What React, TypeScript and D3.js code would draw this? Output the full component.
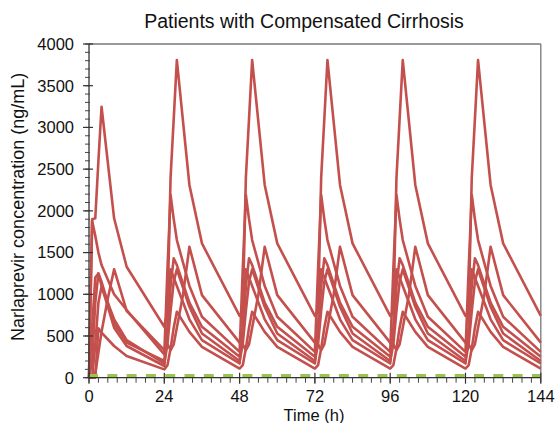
import React from "react";
import * as d3 from "d3";

const TITLE = "Patients with Compensated Cirrhosis";
const X_LABEL = "Time (h)";
const Y_LABEL = "Narlaprevir concentration (ng/mL)";

const X_TICKS = [0, 24, 48, 72, 96, 120, 144];
const Y_TICKS = [0, 500, 1000, 1500, 2000, 2500, 3000, 3500, 4000];
const DOSE_DAYS = [0, 1, 2, 3, 4, 5];
const LLOQ = 25;

// hours after each dose
const REL_TIMES = [0, 1, 2, 3, 4, 6, 8, 12, 24];

// first-dose profiles (values at REL_TIMES, null = not sampled)
const subjA_day1 = [0, 1900, 1910, 2600, 3248, null, 1911, 1330, 611];
const subjB_day1 = [0, 1880, 1700, 1500, 1350, null, 1000, 811, 280];
const subjC_day1 = [0, 0, 50, 300, 550, 950, 1300, 800, 330];
const subjD_day1 = [0, 200, 900, 1250, 1150, null, 650, 420, 200];
const subjE_day1 = [0, 0, 400, 900, 1091, null, 700, 450, 170];
const subjF_day1 = [0, 0, 0, 592, 540, null, 380, 260, 100];
const subjG_day1 = [0, 600, 1200, 1250, 1100, null, 600, 380, 140];

// steady-state profiles after repeat doses (index 0 = previous trough)
const subjA_ss = [null, 800, 2400, 3100, 3808, null, 2310, 1610, 740];
const subjB_ss = [null, 1300, 2190, 1900, 1650, null, 1100, 730, 310];
const subjC_ss = [null, 400, 330, 400, 600, 1000, 1570, 990, 420];
const subjD_ss = [null, 500, 1100, 1431, 1350, null, 900, 610, 250];
const subjE_ss = [null, 400, 800, 1150, 1300, null, 850, 530, 200];
const subjF_ss = [null, 150, 350, 600, 791, null, 550, 370, 110];
const subjG_ss = [null, 600, 1300, 1200, 1100, null, 700, 450, 170];

const SUBJECTS = [
  [subjA_day1, subjA_ss],
  [subjB_day1, subjB_ss],
  [subjC_day1, subjC_ss],
  [subjD_day1, subjD_ss],
  [subjE_day1, subjE_ss],
  [subjF_day1, subjF_ss],
  [subjG_day1, subjG_ss],
];

const W = 556;
const H = 423;
const X0 = 89;
const X1 = 540.8;
const Y0 = 377.7;
const Y1 = 44;
const FONT = "'Liberation Sans', Arial, Helvetica, sans-serif";

function buildSeries(day1: (number | null)[], ss: (number | null)[]) {
  const pts: [number, number][] = [];
  DOSE_DAYS.forEach((d) => {
    const prof = d === 0 ? day1 : ss;
    REL_TIMES.forEach((rt, i) => {
      const v = prof[i];
      if (v === null || v === undefined) return;
      pts.push([d * 24 + rt, v]);
    });
  });
  return pts;
}

export default function App() {
  const x = d3.scaleLinear().domain([0, 144]).range([X0, X1]);
  const y = d3.scaleLinear().domain([0, 4000]).range([Y0, Y1]);
  const line = d3
    .line<[number, number]>()
    .x((d) => x(d[0]))
    .y((d) => y(d[1]));

  const xMinor = d3.range(0, 145, 3);
  const yMinor = d3.range(0, 4001, 100);

  return (
    <svg
      width={W}
      height={H}
      style={{ position: "absolute", left: 0, top: 0, background: "#fff" }}
    >
      <rect x={0} y={0} width={W} height={H} fill="#fff" />
      <text
        x={304}
        y={28}
        textAnchor="middle"
        fontFamily={FONT}
        fontSize={19.5}
        fill="#111"
      >
        {TITLE}
      </text>

      {/* frame */}
      <line x1={X0} y1={Y1} x2={X1} y2={Y1} stroke="#777" strokeWidth={1.3} />
      <line x1={X1} y1={Y1} x2={X1} y2={Y0} stroke="#777" strokeWidth={1.3} />

      {/* curves */}
      {SUBJECTS.map(([d1, ss], i) => (
        <path
          key={i}
          d={line(buildSeries(d1, ss)) || ""}
          fill="none"
          stroke="#c4504d"
          strokeWidth={2.6}
          strokeLinejoin="round"
        />
      ))}

      {/* LLOQ */}
      <line
        x1={x(0) - 1}
        x2={x(144)}
        y1={y(LLOQ)}
        y2={y(LLOQ)}
        stroke="#9bc54a"
        strokeWidth={3}
        strokeDasharray="10,9.3"
      />

      {/* y axis */}
      <line x1={X0} y1={Y1} x2={X0} y2={Y0} stroke="#333" strokeWidth={1.3} />
      {yMinor.map((v) => (
        <line
          key={"ym" + v}
          x1={X0 - 4}
          x2={X0 + 1}
          y1={y(v)}
          y2={y(v)}
          stroke="#444"
          strokeWidth={1}
        />
      ))}
      {Y_TICKS.map((v) => (
        <g key={"y" + v}>
          <line
            x1={X0 - 6}
            x2={X0 + 4}
            y1={y(v)}
            y2={y(v)}
            stroke="#333"
            strokeWidth={1.2}
          />
          <text
            x={74}
            y={y(v) + 5.8}
            textAnchor="end"
            fontFamily={FONT}
            fontSize={16.5}
            fill="#111"
          >
            {v}
          </text>
        </g>
      ))}

      {/* x axis */}
      <line x1={X0} y1={Y0} x2={X1} y2={Y0} stroke="#333" strokeWidth={1.3} />
      {xMinor.map((t) => (
        <line
          key={"xm" + t}
          x1={x(t)}
          x2={x(t)}
          y1={Y0}
          y2={Y0 + 5}
          stroke="#444"
          strokeWidth={1}
        />
      ))}
      {X_TICKS.map((t) => (
        <g key={"x" + t}>
          <line
            x1={x(t)}
            x2={x(t)}
            y1={Y0 - 5}
            y2={Y0 + 6}
            stroke="#333"
            strokeWidth={1.2}
          />
          <text
            x={x(t)}
            y={402}
            textAnchor="middle"
            fontFamily={FONT}
            fontSize={16.5}
            fill="#111"
          >
            {t}
          </text>
        </g>
      ))}

      <text
        x={314}
        y={420.5}
        textAnchor="middle"
        fontFamily={FONT}
        fontSize={16.5}
        fill="#111"
      >
        {X_LABEL}
      </text>
      <text
        transform={`translate(24,${(Y0 + Y1) / 2 - 4}) rotate(-90)`}
        textAnchor="middle"
        fontFamily={FONT}
        fontSize={18}
        fill="#111"
      >
        {Y_LABEL}
      </text>
    </svg>
  );
}
